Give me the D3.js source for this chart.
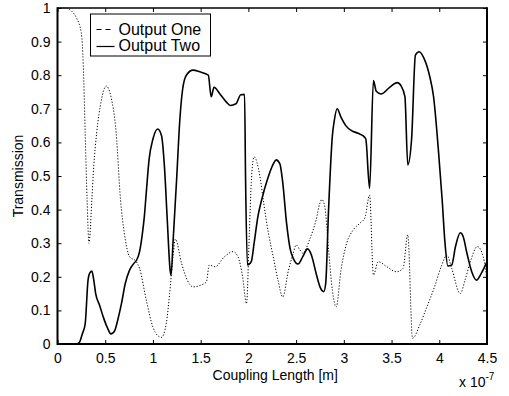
<!DOCTYPE html>
<html>
<head>
<meta charset="utf-8">
<script src="https://cdn.jsdelivr.net/npm/d3@7"></script>
<style>
  body { margin: 0; background: #fff; }
  svg text { font-family: Arial, "Liberation Sans", sans-serif; fill: #000; }
  .axis text { font-size: 14px; }
  .axis line { stroke: #000; stroke-width: 1; }
  .axis path { display: none; }
</style>
</head>
<body>
<div id="chart"></div>
<script>
// coupling length in units of 1e-7 m
var oneX = [0, 0.09, 0.15, 0.2, 0.25, 0.27, 0.29, 0.31, 0.33, 0.36, 0.38, 0.41, 0.46, 0.51, 0.56, 0.615, 0.66, 0.7, 0.755, 0.825, 0.86, 0.93, 1.0, 1.05, 1.09, 1.14, 1.175, 1.21, 1.235, 1.3, 1.36, 1.42, 1.5, 1.56, 1.59, 1.65, 1.75, 1.84, 1.89, 1.94, 1.98, 2.01, 2.03, 2.06, 2.12, 2.16, 2.21, 2.26, 2.31, 2.36, 2.42, 2.47, 2.5, 2.54, 2.57, 2.64, 2.71, 2.75, 2.77, 2.8, 2.84, 2.88, 2.92, 2.97, 3.03, 3.1, 3.17, 3.22, 3.27, 3.31, 3.36, 3.45, 3.55, 3.62, 3.67, 3.72, 3.8, 3.87, 3.95, 4.02, 4.08, 4.13, 4.22, 4.27, 4.32, 4.4, 4.46, 4.5];
var oneY = [1.0, 1.0, 0.99, 0.97, 0.925, 0.83, 0.63, 0.43, 0.30, 0.43, 0.53, 0.627, 0.726, 0.768, 0.736, 0.627, 0.43, 0.33, 0.26, 0.245, 0.225, 0.131, 0.05, 0.025, 0.02, 0.062, 0.15, 0.26, 0.312, 0.24, 0.19, 0.17, 0.175, 0.185, 0.235, 0.23, 0.26, 0.275, 0.26, 0.2, 0.12, 0.33, 0.48, 0.557, 0.5, 0.42, 0.33, 0.26, 0.19, 0.14, 0.22, 0.27, 0.295, 0.28, 0.27, 0.31, 0.37, 0.42, 0.43, 0.41, 0.28, 0.16, 0.11, 0.22, 0.30, 0.34, 0.36, 0.375, 0.443, 0.205, 0.245, 0.23, 0.215, 0.225, 0.325, 0.017, 0.06, 0.11, 0.17, 0.23, 0.265, 0.225, 0.15, 0.19, 0.24, 0.29, 0.26, 0.19];

var twoX = [0, 0.2, 0.23, 0.26, 0.29, 0.32, 0.336, 0.36, 0.38, 0.4, 0.44, 0.48, 0.52, 0.56, 0.6, 0.63, 0.67, 0.71, 0.755, 0.8, 0.83, 0.86, 0.89, 0.91, 0.93, 0.96, 1.0, 1.05, 1.09, 1.12, 1.15, 1.18, 1.19, 1.21, 1.25, 1.28, 1.31, 1.35, 1.42, 1.49, 1.58, 1.61, 1.64, 1.7, 1.77, 1.81, 1.87, 1.92, 1.96, 1.97, 1.99, 2.03, 2.06, 2.1, 2.14, 2.2, 2.26, 2.29, 2.33, 2.36, 2.4, 2.44, 2.47, 2.52, 2.57, 2.62, 2.66, 2.71, 2.75, 2.79, 2.81, 2.84, 2.88, 2.9, 2.93, 2.97, 3.02, 3.08, 3.15, 3.2, 3.23, 3.27, 3.31, 3.34, 3.39, 3.48, 3.56, 3.6, 3.64, 3.67, 3.71, 3.75, 3.79, 3.84, 3.9, 3.94, 3.99, 4.03, 4.06, 4.09, 4.13, 4.17, 4.22, 4.25, 4.29, 4.34, 4.39, 4.44, 4.5];
var twoY = [0, 0, 0.005, 0.03, 0.06, 0.19, 0.21, 0.217, 0.19, 0.15, 0.116, 0.08, 0.05, 0.03, 0.04, 0.07, 0.12, 0.18, 0.22, 0.24, 0.25, 0.275, 0.33, 0.38, 0.45, 0.55, 0.61, 0.64, 0.62, 0.53, 0.37, 0.22, 0.205, 0.3, 0.5, 0.66, 0.756, 0.80, 0.815, 0.81, 0.80, 0.736, 0.764, 0.745, 0.72, 0.71, 0.715, 0.742, 0.743, 0.5, 0.235, 0.245, 0.30, 0.38, 0.43, 0.49, 0.535, 0.548, 0.536, 0.48, 0.36, 0.28, 0.255, 0.238, 0.26, 0.283, 0.265, 0.21, 0.17, 0.156, 0.18, 0.40, 0.62, 0.665, 0.70, 0.675, 0.65, 0.635, 0.627, 0.62, 0.61, 0.463, 0.784, 0.752, 0.744, 0.764, 0.778, 0.768, 0.736, 0.533, 0.61, 0.86, 0.87, 0.85, 0.796, 0.736, 0.58, 0.43, 0.30, 0.232, 0.235, 0.29, 0.331, 0.32, 0.27, 0.215, 0.19, 0.21, 0.245];

var xTicks = [0, 0.5, 1, 1.5, 2, 2.5, 3, 3.5, 4, 4.5];
var xTickLabels = ["0", "0.5", "1", "1.5", "2", "2.5", "3", "3.5", "4", "4.5"];
var yTicks = [0, 0.1, 0.2, 0.3, 0.4, 0.5, 0.6, 0.7, 0.8, 0.9, 1];
var yTickLabels = ["0", "0.1", "0.2", "0.3", "0.4", "0.5", "0.6", "0.7", "0.8", "0.9", "1"];
var seriesNames = ["Output One", "Output Two"];

var margin = {top: 8, right: 22, bottom: 52, left: 57.5},
    width = 509 - margin.left - margin.right,
    height = 396 - margin.top - margin.bottom;

var svg = d3.select("#chart").append("svg")
    .attr("width", 509)
    .attr("height", 396)
  .append("g")
    .attr("transform", "translate(" + margin.left + "," + margin.top + ")");

var x = d3.scaleLinear().domain([0, 4.5]).range([0, width]);
var y = d3.scaleLinear().domain([0, 1]).range([height, 0]);

// ticks on all four sides, pointing inwards
svg.append("g")
    .attr("class", "axis")
    .attr("transform", "translate(0," + height + ")")
    .call(d3.axisBottom(x).tickValues(xTicks)
        .tickFormat(function(d, i) { return xTickLabels[i]; })
        .tickSizeInner(-4).tickSizeOuter(0).tickPadding(9));

svg.append("g")
    .attr("class", "axis")
    .call(d3.axisTop(x).tickValues(xTicks).tickFormat("")
        .tickSizeInner(-4).tickSizeOuter(0));

svg.append("g")
    .attr("class", "axis")
    .call(d3.axisLeft(y).tickValues(yTicks)
        .tickFormat(function(d, i) { return yTickLabels[i]; })
        .tickSizeInner(-4).tickSizeOuter(0).tickPadding(7));

svg.append("g")
    .attr("class", "axis")
    .attr("transform", "translate(" + width + ",0)")
    .call(d3.axisRight(y).tickValues(yTicks).tickFormat("")
        .tickSizeInner(-4).tickSizeOuter(0));

var line = d3.line()
    .x(function(d) { return x(d[0]); })
    .y(function(d) { return y(d[1]); })
    .curve(d3.curveMonotoneX);

var one = oneX.map(function(v, i) { return [v, oneY[i]]; });
var two = twoX.map(function(v, i) { return [v, twoY[i]]; });

svg.append("path")
    .datum(one)
    .attr("d", line)
    .attr("fill", "none")
    .attr("stroke", "#000")
    .attr("stroke-width", 1)
    .attr("stroke-dasharray", "1.2,1.8");

svg.append("path")
    .datum(two)
    .attr("d", line)
    .attr("fill", "none")
    .attr("stroke", "#000")
    .attr("stroke-width", 1.6);

// frame
svg.append("line").attr("x1", 0).attr("x2", width).attr("y1", 0).attr("y2", 0)
    .attr("stroke", "#000").attr("stroke-width", 1.5);
svg.append("line").attr("x1", 0).attr("x2", width).attr("y1", height).attr("y2", height)
    .attr("stroke", "#000").attr("stroke-width", 2);
svg.append("line").attr("x1", 0).attr("x2", 0).attr("y1", -0.75).attr("y2", height + 1)
    .attr("stroke", "#000").attr("stroke-width", 2);
svg.append("line").attr("x1", width).attr("x2", width).attr("y1", -0.75).attr("y2", height + 1)
    .attr("stroke", "#000").attr("stroke-width", 2);

// legend
var legend = svg.append("g").attr("transform", "translate(33,6)");
legend.append("rect")
    .attr("width", 120).attr("height", 42)
    .attr("fill", "#fff").attr("stroke", "#000").attr("stroke-width", 1);
legend.append("line")
    .attr("x1", 6).attr("x2", 24).attr("y1", 15.5).attr("y2", 15.5)
    .attr("stroke", "#000").attr("stroke-width", 1).attr("stroke-dasharray", "5,4");
legend.append("line")
    .attr("x1", 6).attr("x2", 24).attr("y1", 32.5).attr("y2", 32.5)
    .attr("stroke", "#000").attr("stroke-width", 1.2);
legend.append("text").attr("x", 28).attr("y", 20.5)
    .style("font-size", "16px").text(seriesNames[0]);
legend.append("text").attr("x", 28).attr("y", 37)
    .style("font-size", "16px").text(seriesNames[1]);

// axis titles
svg.append("text")
    .attr("x", width / 2 + 3)
    .attr("y", height + 36)
    .attr("text-anchor", "middle")
    .style("font-size", "14px")
    .text("Coupling Length [m]");

svg.append("text")
    .attr("transform", "translate(" + (23 - margin.left) + "," + (height / 2) + ") rotate(-90)")
    .attr("text-anchor", "middle")
    .style("font-size", "14px")
    .text("Transmission");

var expo = svg.append("text")
    .attr("x", width - 28)
    .attr("y", height + 43)
    .style("font-size", "14px");
expo.append("tspan").text("x 10");
expo.append("tspan").attr("dy", -7).style("font-size", "10px").text("-7");
</script>
</body>
</html>
